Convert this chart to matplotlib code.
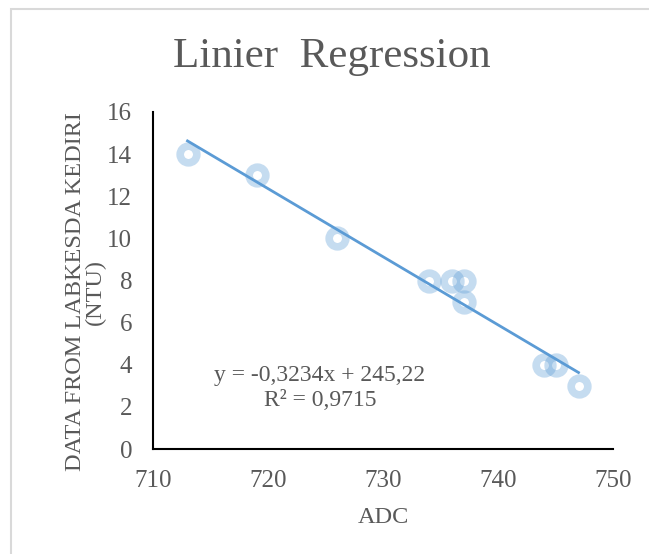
import numpy as np
import matplotlib.pyplot as plt
from matplotlib.patches import Rectangle

# ADC readings vs turbidity from the lab (NTU)
adc = [713, 719, 726, 734, 736, 737, 737, 744, 745, 747]
ntu = [14, 13, 10, 8, 8, 8, 7, 4, 4, 3]
x_ticks = [710, 720, 730, 740, 750]
y_ticks = [0, 2, 4, 6, 8, 10, 12, 14, 16]
eq_text = "y = -0,3234x + 245,22\nR\u00b2 = 0,9715"

plt.rcParams['font.family'] = ['Liberation Serif', 'DejaVu Serif']
grey = '#595959'
blue = '#5B9BD5'

fig = plt.figure(figsize=(6.49, 5.54), dpi=100)
ax = fig.add_axes([153 / 649, 105 / 554, 460 / 649, 337 / 554])

# chart frame like Excel
fig.patches.append(Rectangle((11 / 649, -0.01), 1.0, (554 - 9) / 554 + 0.01,
                             transform=fig.transFigure, fill=False,
                             edgecolor='#d9d9d9', linewidth=1.5))

ax.plot(adc, ntu, linestyle='none', marker='o', markersize=12,
        markerfacecolor='none', markeredgecolor=blue, markeredgewidth=5.5,
        alpha=0.35, zorder=2)

# linear trendline over the data range
k, b = np.polyfit(adc, ntu, 1)
xs = np.array([min(adc), max(adc)])
ax.plot(xs, k * xs + b, color=blue, linewidth=2, zorder=3)

ax.text(724.5, 2.9, eq_text, ha='center', va='center', fontsize=17,
        color=grey, linespacing=1.3)

ax.set_xlim(710, 750)
ax.set_ylim(0, 16)
ax.set_xticks(x_ticks)
ax.set_yticks(y_ticks)
ax.tick_params(length=0, labelsize=18, labelcolor=grey)
ax.tick_params(axis='y', pad=15)
ax.tick_params(axis='x', pad=15)
for s in ['top', 'right']:
    ax.spines[s].set_visible(False)
for s in ['left', 'bottom']:
    ax.spines[s].set_linewidth(1.5)
    ax.spines[s].set_color('black')

ax.set_xlabel('ADC', fontsize=17.5, color=grey, labelpad=11)
ax.set_ylabel('DATA FROM LABKESDA KEDIRI\n(NTU)', fontsize=17.5, color=grey,
              linespacing=0.9)
ax.yaxis.set_label_coords(-0.147, 0.466)
ax.yaxis.label.set_va('center')

fig.text(0.512, 0.897, 'Linier  Regression', ha='center', va='center',
         fontsize=31, color=grey)

fig.savefig('out.png', dpi=100)
